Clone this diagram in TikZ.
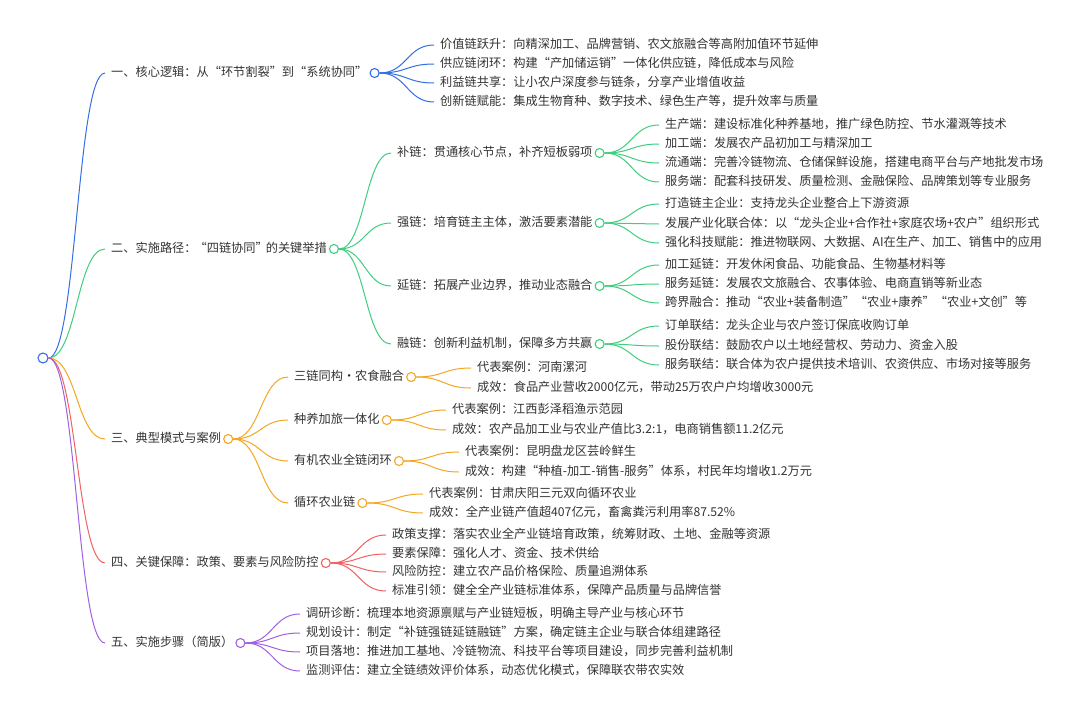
\documentclass[tikz,border=0pt]{standalone}
\usepackage{fontspec}
\setmainfont{Noto Sans CJK SC}
\usetikzlibrary{calc}
\definecolor{cblue}{HTML}{3370E6}
\definecolor{cgreen}{HTML}{40CE7E}
\definecolor{corange}{HTML}{F5A623}
\definecolor{cred}{HTML}{F06262}
\definecolor{cpurple}{HTML}{A062E0}
\definecolor{textc}{HTML}{333333}
\tikzset{
  txt/.style={anchor=west, inner xsep=6pt, inner ysep=0pt, text height=0.88em, text depth=0.12em,
    font=\fontsize{12.2}{14}\selectfont, text=textc},
  dot/.style={circle, draw=#1, fill=white, line width=1.1pt, minimum size=9pt, inner sep=0pt},
  lnk/.style={draw=#1, line width=1pt}
}
\newcommand\link[3]{\draw[lnk=#1] let \p1=(#2.east), \p2=(#3.west) in (\p1) .. controls ({0.5*\x1+0.5*\x2},\y1) and ({0.5*\x1+0.5*\x2},\y2) .. (\p2);}
\begin{document}
\begin{tikzpicture}[x=1pt,y=-1pt]
\useasboundingbox (0,0) rectangle (1080,716);
\fill[white] (0,0) rectangle (1080,716);
% root
\node[dot=cblue, minimum size=10pt] (r) at (43,358) {};
% level 1
\node[txt] (n1) at (105,73) {一、核心逻辑：从“环节割裂”到“系统协同”};
\node[dot=cblue] (c1) at ([xshift=1pt]n1.east) {};
\node[txt] (n2) at (105,249) {二、实施路径：\kern-2pt“四链协同”\kern-2pt的关键举措};
\node[dot=cgreen] (c2) at ([xshift=1pt]n2.east) {};
\node[txt] (n3) at (105,439) {三、典型模式与案例};
\node[dot=corange] (c3) at ([xshift=1pt]n3.east) {};
\node[txt] (n4) at (105,563) {四、关键保障：政策、要素与风险防控};
\node[dot=cred] (c4) at ([xshift=1pt]n4.east) {};
\node[txt] (n5) at (105,643) {五、实施步骤（简版）};
\node[dot=cpurple] (c5) at ([xshift=1pt]n5.east) {};
\link{cblue}{r}{n1}
\link{cgreen}{r}{n2}
\link{corange}{r}{n3}
\link{cred}{r}{n4}
\link{cpurple}{r}{n5}
% 一 children
\node[txt] (a1) at (434,45) {价值链跃升：向精深加工、品牌营销、农文旅融合等高附加值环节延伸};
\node[txt] (a2) at (434,64) {供应链闭环：构建“产加储运销”一体化供应链，降低成本与风险};
\node[txt] (a3) at (434,83) {利益链共享：让小农户深度参与链条，分享产业增值收益};
\node[txt] (a4) at (434,102) {创新链赋能：集成生物育种、数字技术、绿色生产等，提升效率与质量};
\foreach \k in {a1,a2,a3,a4} {\link{cblue}{c1}{\k}}
% 二 children
\node[txt] (b1) at (391,153) {补链：贯通核心节点，补齐短板弱项};
\node[dot=cgreen] (cb1) at ([xshift=1pt]b1.east) {};
\node[txt] (b2) at (391,223) {强链：培育链主主体，激活要素潜能};
\node[dot=cgreen] (cb2) at ([xshift=1pt]b2.east) {};
\node[txt] (b3) at (391,286) {延链：拓展产业边界，推动业态融合};
\node[dot=cgreen] (cb3) at ([xshift=1pt]b3.east) {};
\node[txt] (b4) at (391,344) {融链：创新利益机制，保障多方共赢};
\node[dot=cgreen] (cb4) at ([xshift=1pt]b4.east) {};
\foreach \k in {b1,b2,b3,b4} {\link{cgreen}{c2}{\k}}
% 补链 children
\node[txt] (b11) at (659,125) {生产端：建设标准化种养基地，推广绿色防控、节水灌溉等技术};
\node[txt] (b12) at (659,144) {加工端：发展农产品初加工与精深加工};
\node[txt] (b13) at (659,163) {流通端：完善冷链物流、仓储保鲜设施，搭建电商平台与产地批发市场};
\node[txt] (b14) at (659,182) {服务端：配套科技研发、质量检测、金融保险、品牌策划等专业服务};
\foreach \k in {b11,b12,b13,b14} {\link{cgreen}{cb1}{\k}}
% 强链 children
\node[txt] (b21) at (659,204) {打造链主企业：支持龙头企业整合上下游资源};
\node[txt] (b22) at (659,224) {发展产业化联合体：以“龙头企业+合作社+家庭农场+农户”组织形式};
\node[txt] (b23) at (659,243) {强化科技赋能：推进物联网、大数据、AI在生产、加工、销售中的应用};
\foreach \k in {b21,b22,b23} {\link{cgreen}{cb2}{\k}}
% 延链 children
\node[txt] (b31) at (659,265) {加工延链：开发休闲食品、功能食品、生物基材料等};
\node[txt] (b32) at (659,284) {服务延链：发展农文旅融合、农事体验、电商直销等新业态};
\node[txt] (b33) at (659,303) {跨界融合：推动“农业+装备制造”“农业+康养”“农业+文创”等};
\foreach \k in {b31,b32,b33} {\link{cgreen}{cb3}{\k}}
% 融链 children
\node[txt] (b41) at (659,326) {订单联结：龙头企业与农户签订保底收购订单};
\node[txt] (b42) at (659,346) {股份联结：鼓励农户以土地经营权、劳动力、资金入股};
\node[txt] (b43) at (659,365) {服务联结：联合体为农户提供技术培训、农资供应、市场对接等服务};
\foreach \k in {b41,b42,b43} {\link{cgreen}{cb4}{\k}}
% 三 children
\node[txt] (d1) at (288,377) {三链同构·农食融合};
\node[dot=corange] (cd1) at ([xshift=1pt]d1.east) {};
\node[txt] (d2) at (288,420) {种养加旅一体化};
\node[dot=corange] (cd2) at ([xshift=1pt]d2.east) {};
\node[txt] (d3) at (288,461) {有机农业全链闭环};
\node[dot=corange] (cd3) at ([xshift=1pt]d3.east) {};
\node[txt] (d4) at (288,503) {循环农业链};
\node[dot=corange] (cd4) at ([xshift=1pt]d4.east) {};
\foreach \k in {d1,d2,d3,d4} {\link{corange}{c3}{\k}}
\node[txt] (d11) at (471,368) {代表案例：河南漯河};
\node[txt] (d12) at (471,388) {成效：食品产业营收2000亿元，带动25万农户户均增收3000元};
\foreach \k in {d11,d12} {\link{corange}{cd1}{\k}}
\node[txt] (d21) at (446,410) {代表案例：江西彭泽稻渔示范园};
\node[txt] (d22) at (446,430) {成效：农产品加工业与农业产值比3.2:1，电商销售额11.2亿元};
\foreach \k in {d21,d22} {\link{corange}{cd2}{\k}}
\node[txt] (d31) at (459,452) {代表案例：昆明盘龙区芸岭鲜生};
\node[txt] (d32) at (459,472) {成效：构建“种植-加工-销售-服务”体系，村民年均增收1.2万元};
\foreach \k in {d31,d32} {\link{corange}{cd3}{\k}}
\node[txt] (d41) at (423,494) {代表案例：甘肃庆阳三元双向循环农业};
\node[txt] (d42) at (423,513) {成效：全产业链产值超407亿元，畜禽粪污利用率87.52\%};
\foreach \k in {d41,d42} {\link{corange}{cd4}{\k}}
% 四 children
\node[txt] (e1) at (386,535) {政策支撑：落实农业全产业链培育政策，统筹财政、土地、金融等资源};
\node[txt] (e2) at (386,554) {要素保障：强化人才、资金、技术供给};
\node[txt] (e3) at (386,572) {风险防控：建立农产品价格保险、质量追溯体系};
\node[txt] (e4) at (386,591) {标准引领：健全全产业链标准体系，保障产品质量与品牌信誉};
\foreach \k in {e1,e2,e3,e4} {\link{cred}{c4}{\k}}
% 五 children
\node[txt] (f1) at (300,614) {调研诊断：梳理本地资源禀赋与产业链短板，明确主导产业与核心环节};
\node[txt] (f2) at (300,633) {规划设计：制定“补链强链延链融链”方案，确定链主企业与联合体组建路径};
\node[txt] (f3) at (300,652) {项目落地：推进加工基地、冷链物流、科技平台等项目建设，同步完善利益机制};
\node[txt] (f4) at (300,671) {监测评估：建立全链绩效评价体系，动态优化模式，保障联农带农实效};
\foreach \k in {f1,f2,f3,f4} {\link{cpurple}{c5}{\k}}
\end{tikzpicture}
\end{document}
